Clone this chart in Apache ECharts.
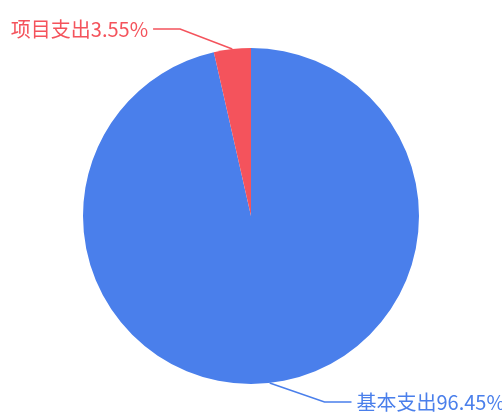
<!DOCTYPE html>
<html><head><meta charset="utf-8">
<script src="https://cdn.jsdelivr.net/npm/echarts@6/dist/echarts.min.js"></script>
<style>html,body{margin:0;padding:0;background:#fff}#c{width:502px;height:413px}</style>
</head><body><div id="c"></div>
<script>
const categories = ['基本支出', '项目支出'];
const values = [96.45, 3.55];
const colors = ['#4A7FEB', '#F4535C'];

// layout constants
const CX = 251, CY = 216, R = 168;
const LINE_LEN = 32, LINE_LEN2 = 27, LABEL_GAP = 5;
const VIEW_TOP = 19, VIEW_BOTTOM = 412;

const chart = echarts.init(document.getElementById('c'));
chart.setOption({
  animation: false,
  color: colors,
  series: [{
    type: 'pie',
    center: [CX, CY],
    radius: R,
    startAngle: 90,
    clockwise: true,
    data: categories.map((n, i) => ({ name: n, value: values[i] })),
    label: {
      formatter: p => p.name + p.value.toFixed(2) + '%',
      fontSize: 20,
      fontFamily: 'Noto Sans CJK SC',
      color: 'inherit'
    },
    labelLine: { length: LINE_LEN, length2: LINE_LEN2, smooth: false, lineStyle: { width: 1.5 } },
    // keep outer labels inside the view box (shift vertically), turning point
    // stays on the circle of radius R + length, like classic ECharts pie layout
    labelLayout: function (p) {
      const pts = p.labelLinePoints;
      if (!pts) return {};
      const h = p.labelRect.height;
      const origY = pts[2][1];
      const y = Math.min(Math.max(origY, VIEW_TOP + h / 2), VIEW_BOTTOM - h / 2);
      const dir = pts[2][0] < CX ? -1 : 1;
      const rt = R + LINE_LEN;
      const dy = Math.abs(y - CY);
      const dx = dy < rt ? Math.sqrt(rt * rt - dy * dy) : Math.abs(pts[1][0] - CX);
      const turnX = CX + dir * dx;
      const endX = turnX + dir * LINE_LEN2;
      return {
        x: endX + dir * LABEL_GAP,
        y: y,
        align: dir < 0 ? 'right' : 'left',
        verticalAlign: 'middle',
        labelLinePoints: [pts[0], [turnX, y], [endX, y]]
      };
    },
    itemStyle: { borderWidth: 0 }
  }]
});
</script></body></html>
